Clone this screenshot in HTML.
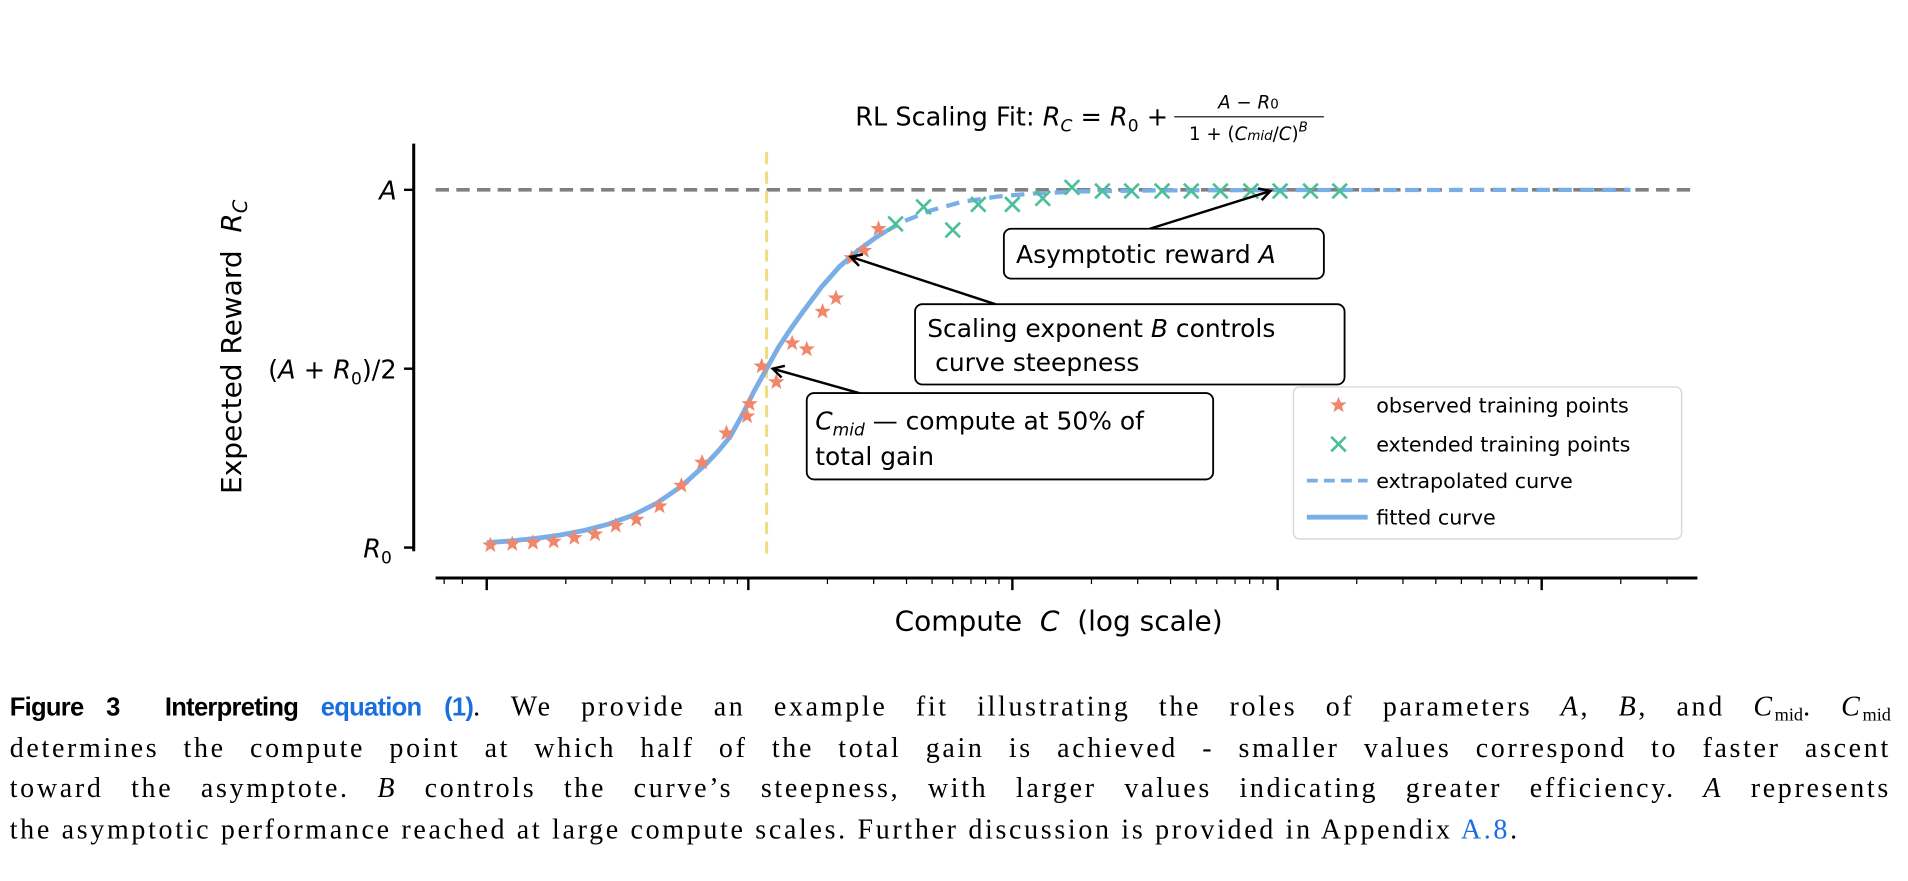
<!DOCTYPE html>
<html><head><meta charset="utf-8"><style>
body{margin:0;background:#fff;width:1908px;height:880px;overflow:hidden;position:relative}
#wrap{position:absolute;left:0;top:0;width:1568px;height:724px;transform:scale(1.2168);transform-origin:0 0}
svg{position:absolute;left:0;top:0}
.cap{position:absolute;left:8px;top:564px;width:1546px;font-family:"Liberation Serif",serif;font-size:23px;letter-spacing:2.2px;line-height:33.5px;color:#000;white-space:nowrap}
.cap p{margin:0;height:33.5px;text-align:justify;text-align-last:justify;white-space:normal}
.cap sub{font-size:15px;letter-spacing:0;vertical-align:-4px;line-height:0}
.b{font-family:"Liberation Sans",sans-serif;font-weight:bold;font-size:21px;letter-spacing:-0.6px;word-spacing:-2px}
.l{color:#1a6fe0}
</style></head><body><div id="wrap">
<svg width="1568" height="560" font-family="DejaVu Sans, Liberation Sans, sans-serif">
<defs>
<polygon id="st" points="0,-7 1.8,-2.3 6.7,-2.2 2.8,0.9 4.2,5.7 0,2.9 -4.2,5.7 -2.8,0.9 -6.7,-2.2 -1.8,-2.3" fill="#f0876a"/>
<g id="cx"><path d="M-6,-6L6,6M-6,6L6,-6" stroke="#4cbf9a" stroke-width="2.2"/></g>
<marker id="ar" markerWidth="12" markerHeight="12" refX="10" refY="6" orient="auto" markerUnits="userSpaceOnUse"><path d="M1,1L10,6L1,11" fill="none" stroke="#000" stroke-width="2"/></marker>
</defs>
<text x="960" y="103" font-size="21" text-anchor="end" font-family="DejaVu Sans, sans-serif">RL Scaling Fit: <tspan font-style="italic">R</tspan><tspan font-size="14" font-style="italic" dy="5">C</tspan><tspan dy="-5"> = </tspan><tspan font-style="italic">R</tspan><tspan font-size="14" dy="5">0</tspan><tspan dy="-5"> +</tspan></text>
<line x1="965" y1="96" x2="1088" y2="96" stroke="#000" stroke-width="1"/>
<text x="1026" y="89" font-size="15" text-anchor="middle" font-style="italic">A − R<tspan font-size="11" font-style="normal">0</tspan></text>
<text x="1026" y="115" font-size="15" text-anchor="middle">1 + (<tspan font-style="italic">C</tspan><tspan font-size="11" font-style="italic">mid</tspan>/<tspan font-style="italic">C</tspan>)<tspan font-size="11" font-style="italic" dy="-7">B</tspan></text>
<line x1="340" y1="118" x2="340" y2="453" stroke="#000" stroke-width="2.5"/>
<line x1="358" y1="475" x2="1395" y2="475" stroke="#000" stroke-width="2.5"/>
<g stroke="#000" stroke-width="2"><line x1="332" y1="156" x2="340" y2="156"/><line x1="332" y1="303" x2="340" y2="303"/><line x1="332" y1="450" x2="340" y2="450"/>
<line x1="400" y1="475" x2="400" y2="485"/><line x1="615" y1="475" x2="615" y2="485"/><line x1="832" y1="475" x2="832" y2="485"/><line x1="1050" y1="475" x2="1050" y2="485"/><line x1="1267" y1="475" x2="1267" y2="485"/></g>
<g stroke="#000" stroke-width="1"><line x1="365" y1="475" x2="365" y2="480"/><line x1="380" y1="475" x2="380" y2="480"/><line x1="465" y1="475" x2="465" y2="480"/><line x1="503" y1="475" x2="503" y2="480"/><line x1="530" y1="475" x2="530" y2="480"/><line x1="551" y1="475" x2="551" y2="480"/><line x1="568" y1="475" x2="568" y2="480"/><line x1="583" y1="475" x2="583" y2="480"/><line x1="595" y1="475" x2="595" y2="480"/><line x1="606" y1="475" x2="606" y2="480"/><line x1="680" y1="475" x2="680" y2="480"/><line x1="718" y1="475" x2="718" y2="480"/><line x1="745" y1="475" x2="745" y2="480"/><line x1="766" y1="475" x2="766" y2="480"/><line x1="783" y1="475" x2="783" y2="480"/><line x1="798" y1="475" x2="798" y2="480"/><line x1="810" y1="475" x2="810" y2="480"/><line x1="821" y1="475" x2="821" y2="480"/><line x1="897" y1="475" x2="897" y2="480"/><line x1="935" y1="475" x2="935" y2="480"/><line x1="962" y1="475" x2="962" y2="480"/><line x1="983" y1="475" x2="983" y2="480"/><line x1="1000" y1="475" x2="1000" y2="480"/><line x1="1015" y1="475" x2="1015" y2="480"/><line x1="1027" y1="475" x2="1027" y2="480"/><line x1="1038" y1="475" x2="1038" y2="480"/><line x1="1115" y1="475" x2="1115" y2="480"/><line x1="1153" y1="475" x2="1153" y2="480"/><line x1="1180" y1="475" x2="1180" y2="480"/><line x1="1201" y1="475" x2="1201" y2="480"/><line x1="1218" y1="475" x2="1218" y2="480"/><line x1="1233" y1="475" x2="1233" y2="480"/><line x1="1245" y1="475" x2="1245" y2="480"/><line x1="1256" y1="475" x2="1256" y2="480"/><line x1="1332" y1="475" x2="1332" y2="480"/><line x1="1370" y1="475" x2="1370" y2="480"/></g>
<g font-size="21" text-anchor="end"><text x="326" y="164" font-style="italic">A</text><text x="326" y="311">(<tspan font-style="italic">A</tspan> + <tspan font-style="italic">R</tspan><tspan font-size="14" dy="5">0</tspan><tspan dy="-5">)/2</tspan></text><text x="322" y="458" font-style="italic">R<tspan font-size="14" font-style="normal" dy="5">0</tspan></text></g>
<text x="870" y="518" font-size="23" text-anchor="middle" xml:space="preserve">Compute  <tspan font-style="italic">C</tspan>  (log scale)</text>
<text transform="translate(198,285) rotate(-90)" font-size="23" text-anchor="middle" xml:space="preserve">Expected Reward  <tspan font-style="italic">R</tspan><tspan font-size="16" font-style="italic" dy="5">C</tspan></text>
<line x1="358" y1="156" x2="1395" y2="156" stroke="#808080" stroke-width="3" stroke-dasharray="11,6"/>
<line x1="630" y1="125" x2="630" y2="455" stroke="#f0dc82" stroke-width="2.5" stroke-dasharray="10,6"/>
<path fill="none" stroke="#7aaee6" stroke-width="4" stroke-linejoin="round" d="M400,446 L420,444.5 L440,442.5 L460,439.8 L480,436 L500,430.8 L520,423.5 L540,413.4 L560,399.6 L580,381.6 L590,371 L600,359 L610,341 L620,321 L630,303 L640,285 L650,270 L660,256 L675,236 L690,219 L705,206 L720,195 L728,190"/>
<path fill="none" stroke="#7aaee6" stroke-width="3.5" stroke-dasharray="11,7" d="M728,190 L745,181 L765,173 L790,166 L820,161.5 L850,159 L890,157.3 L950,156.5 L1050,156.2 L1340,156"/>
<g>
<use href="#st" x="403" y="448"/><use href="#st" x="421" y="447"/><use href="#st" x="438" y="446"/><use href="#st" x="455" y="445"/><use href="#st" x="472" y="442"/><use href="#st" x="489" y="439"/><use href="#st" x="506" y="432"/><use href="#st" x="523" y="427"/><use href="#st" x="542" y="416"/><use href="#st" x="560" y="399"/><use href="#st" x="577" y="380"/><use href="#st" x="597" y="356"/><use href="#st" x="614" y="342"/><use href="#st" x="616" y="332"/><use href="#st" x="626" y="301"/><use href="#st" x="638" y="314"/><use href="#st" x="651" y="282"/><use href="#st" x="663" y="287"/><use href="#st" x="676" y="256"/><use href="#st" x="687" y="245"/><use href="#st" x="700" y="212"/><use href="#st" x="710" y="206"/><use href="#st" x="722" y="188"/>
</g>
<g>
<use href="#cx" x="736" y="184"/><use href="#cx" x="759" y="170"/><use href="#cx" x="783" y="189"/><use href="#cx" x="804" y="168"/><use href="#cx" x="832" y="168"/><use href="#cx" x="857" y="163"/><use href="#cx" x="881" y="154"/><use href="#cx" x="906" y="157"/><use href="#cx" x="930" y="157"/><use href="#cx" x="955" y="157"/><use href="#cx" x="979" y="157"/><use href="#cx" x="1003" y="157"/><use href="#cx" x="1028" y="157"/><use href="#cx" x="1052" y="157"/><use href="#cx" x="1077" y="157"/><use href="#cx" x="1101" y="157"/>
</g>
<g stroke="#000" stroke-width="2" marker-end="url(#ar)"><line x1="945" y1="188" x2="1044" y2="157"/><line x1="818" y1="250" x2="699" y2="211"/><line x1="706" y1="323" x2="635" y2="303"/></g>
<g fill="#fff" stroke="#000" stroke-width="1.5">
<rect x="825" y="188" width="263" height="41" rx="6"/><rect x="752" y="250" width="353" height="66" rx="6"/><rect x="663" y="323" width="334" height="71" rx="6"/></g>
<g font-size="20.5">
<text x="835" y="216">Asymptotic reward <tspan font-style="italic">A</tspan></text>
<text x="762" y="277">Scaling exponent <tspan font-style="italic">B</tspan> controls</text>
<text x="762" y="305" xml:space="preserve"> curve steepness</text>
<text x="670" y="353"><tspan font-style="italic">C</tspan><tspan font-size="14" font-style="italic" dy="5">mid</tspan><tspan dy="-5"> — compute at 50% of</tspan></text>
<text x="670" y="382">total gain</text>
</g>
<rect x="1063" y="318" width="319" height="125" rx="5" fill="#fff" stroke="#d8d8d8" stroke-width="1.2"/>
<use href="#st" x="1100" y="333"/><use href="#cx" x="1100" y="365"/>
<line x1="1074" y1="395" x2="1124" y2="395" stroke="#7aaee6" stroke-width="3" stroke-dasharray="9,5"/>
<line x1="1074" y1="425" x2="1124" y2="425" stroke="#7aaee6" stroke-width="4"/>
<g font-size="17"><text x="1131" y="339">observed training points</text><text x="1131" y="371">extended training points</text><text x="1131" y="401">extrapolated curve</text><text x="1131" y="431">fitted curve</text></g>
</svg>
<div class="cap">
<p><span class="b">Figure 3&nbsp;&nbsp;Interpreting <span class="l">equation (1)</span></span>. We provide an example fit illustrating the roles of parameters <i>A</i>, <i>B</i>, and <i>C</i><sub>mid</sub>. <i>C</i><sub>mid</sub></p>
<p>determines the compute point at which half of the total gain is achieved - smaller values correspond to faster ascent</p>
<p>toward the asymptote. <i>B</i> controls the curve’s steepness, with larger values indicating greater efficiency. <i>A</i> represents</p>
<p style="text-align:left;text-align-last:left">the asymptotic performance reached at large compute scales. Further discussion is provided in Appendix <span class="l">A.8</span>.</p>
</div>
</div></body></html>
